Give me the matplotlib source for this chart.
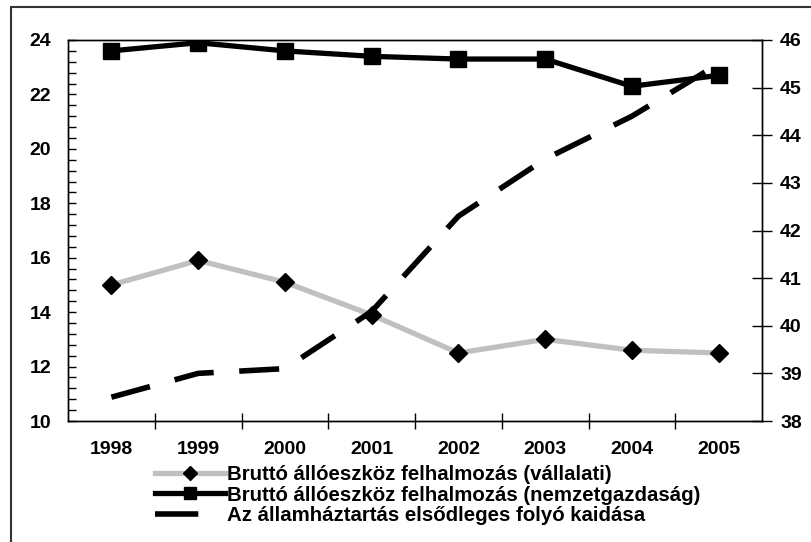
import matplotlib.pyplot as plt
import matplotlib.patches as mpatches
from matplotlib.lines import Line2D
from matplotlib.ticker import MultipleLocator, FixedLocator
import numpy as np

plt.rcParams['font.family'] = ['Liberation Sans', 'DejaVu Sans']
plt.rcParams['font.weight'] = 'bold'

years = ['1998', '1999', '2000', '2001', '2002', '2003', '2004', '2005']
vallalati = [15.0, 15.9, 15.1, 13.9, 12.5, 13.0, 12.6, 12.5]
nemzetgazdasag = [23.6, 23.9, 23.6, 23.4, 23.3, 23.3, 22.3, 22.7]
allamhaztartas = [38.5, 39.0, 39.1, 40.3, 42.3, 43.5, 44.4, 45.5]

labels = ['Bruttó állóeszköz felhalmozás (vállalati)',
          'Bruttó állóeszköz felhalmozás (nemzetgazdaság)',
          'Az államháztartás elsődleges folyó kaidása']

fig = plt.figure(figsize=(8.11, 5.42), dpi=100)
ax = fig.add_axes([68 / 811, 1 - 421 / 542, 694 / 811, 381 / 542])
ax2 = ax.twinx()

x = np.arange(len(years))

l1, = ax.plot(x, vallalati, color='#c0c0c0', lw=3.8, marker='D', ms=9,
              mfc='black', mec='black', zorder=3)
l2, = ax.plot(x, nemzetgazdasag, color='black', lw=3.8, marker='s', ms=11,
              mfc='black', mec='black', zorder=3)
ax2.plot(x, allamhaztartas, color='black', lw=4, dashes=(7.2, 4.6))

ax.set_xlim(-0.5, 7.5)
ax.set_ylim(10, 24)
ax2.set_ylim(38, 46)

ax.set_xticks(x)
ax.set_xticklabels(years, fontsize=14, fontweight='bold')
ax.xaxis.set_minor_locator(FixedLocator(np.arange(0.5, 7, 1)))
ax.tick_params(axis='x', which='major', length=0, pad=14.5)
ax.tick_params(axis='x', which='minor', direction='inout', length=12, width=1)

ax.set_yticks(np.arange(10, 25, 2))
ax.yaxis.set_minor_locator(MultipleLocator(0.4))
ax.tick_params(axis='y', which='both', direction='in', length=6, width=1,
               labelsize=14, pad=12)
for t in ax.get_yticklabels():
    t.set_fontweight('bold')

ax2.set_yticks(np.arange(38, 47, 1))
ax2.tick_params(axis='y', direction='inout', length=14, width=1,
                labelsize=14, pad=6)
for t in ax2.get_yticklabels():
    t.set_fontweight('bold')

for a in (ax, ax2):
    for s in a.spines.values():
        s.set_linewidth(1)
        s.set_color('black')

# legend proxy for the dashed series: a single thick dash
h3 = Line2D([], [], color='black', lw=4, dashes=(7.8, 10))

fig.legend([l1, l2, h3], labels, loc='upper left',
           bbox_to_anchor=(155 / 811, 1 - 465 / 542), frameon=False,
           prop={'size': 14.7, 'weight': 'bold'}, handlelength=3.43,
           handletextpad=0.1, labelspacing=0.08, borderpad=0,
           borderaxespad=0, markerscale=0.8)

# outer border of the chart (left and top edges visible)
fig.add_artist(mpatches.Rectangle((11 / 811, -0.05), 1.0, 1.05 - 7 / 542,
                                  transform=fig.transFigure, fill=False,
                                  edgecolor='#333333', lw=1.5))

fig.savefig('out.png', dpi=100)
